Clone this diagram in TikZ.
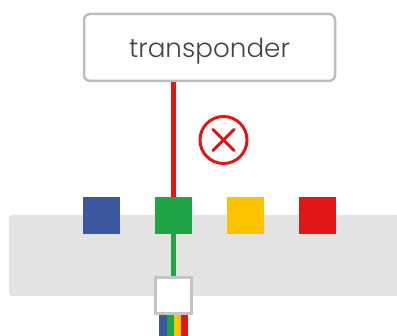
\documentclass[tikz,border=0pt]{standalone}
\usepackage{fontspec}
\setmainfont{Poppins}[UprightFont=* Light]
\definecolor{cborder}{HTML}{BDBDBD}
\definecolor{cportborder}{HTML}{C4C4C4}
\definecolor{cband}{HTML}{E3E3E3}
\definecolor{cblue}{HTML}{3C56A0}
\definecolor{cgreen}{HTML}{1FA545}
\definecolor{cyellow}{HTML}{FDC300}
\definecolor{cred}{HTML}{E31616}
\definecolor{ctext}{HTML}{444444}
\tikzset{
  x=1pt,y=-1pt,
  swatch/.style={minimum size=37pt,inner sep=0pt,outer sep=0pt,fill=#1,draw=none},
  stripe/.style={inner sep=0pt,outer sep=0pt,fill=#1,draw=none,minimum height=21pt,anchor=north west},
  link/.style={line width=4.2pt,draw=#1},
}
\begin{document}
\begin{tikzpicture}
\useasboundingbox (0,0) rectangle (397,336);
\fill[cband,rounded corners=3pt] (9,215) rectangle (397,296);
\fill[cband] (390,215) rectangle (397,296);
\node[stripe=cblue,minimum width=8pt] (s1) at (159,315) {};
\node[stripe=cgreen,minimum width=7pt] (s2) at (167,315) {};
\node[stripe=cyellow,minimum width=7pt] (s3) at (174,315) {};
\node[stripe=cred,minimum width=7pt] (s4) at (181,315) {};
\node[swatch=cblue] (sqblue) at (101.5,215.5) {};
\node[swatch=cgreen] (sqgreen) at (173.5,215.5) {};
\node[swatch=cyellow] (sqyellow) at (245.5,215.5) {};
\node[swatch=cred] (sqred) at (317.5,215.5) {};
\node[draw=cborder,fill=white,line width=2.5pt,rounded corners=6pt,minimum width=251pt,minimum height=67pt,inner sep=0pt,outer sep=1.25pt,text=ctext,font=\fontsize{26.2}{30}\selectfont] (tr) at (209.5,47.5) {\raisebox{-9.8pt}[0pt][0pt]{transponder}};
\node[draw=cportborder,fill=white,line width=2.6pt,minimum size=36.5pt,inner sep=0pt,outer sep=1.3pt] (port) at (173.5,295.5) {};
\draw[link=cred] (tr.south -| sqgreen) -- (sqgreen.north);
\draw[link=cgreen] (sqgreen.south) -- (port.north);
\node[circle,draw=cred,fill=white,line width=3pt,minimum size=47pt,inner sep=0pt] (err) at (223.5,140) {};
\draw[cred,line width=3pt,line cap=round] ([shift={(-10.5,-10.5)}]err.center) -- ([shift={(10.5,10.5)}]err.center);
\draw[cred,line width=3pt,line cap=round] ([shift={(10.5,-10.5)}]err.center) -- ([shift={(-10.5,10.5)}]err.center);
\end{tikzpicture}
\end{document}
